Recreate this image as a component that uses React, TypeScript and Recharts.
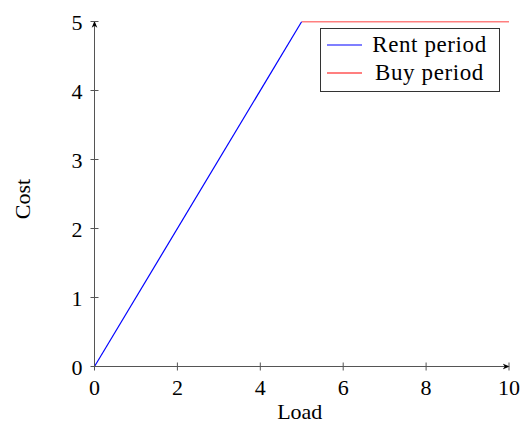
import { LineChart, Line, XAxis, YAxis, Legend } from 'recharts'

const xTicks = [0, 2, 4, 6, 8, 10]
const yTicks = [0, 1, 2, 3, 4, 5]

const rentX = [0, 5]
const rentCost = [0, 5]
const buyX = [5, 10]
const buyCost = [5, 5]

const rentData = rentX.map((x, i) => ({ load: x, cost: rentCost[i] }))
const buyData = buyX.map((x, i) => ({ load: x, cost: buyCost[i] }))

const FONT = '"Liberation Serif", "Times New Roman", serif'
const AXIS = '#555'
const FS = 22
const RENT = 'rgb(0,0,255)'
const BUY = 'rgb(255,0,0)'

function XTick({ x, y, payload }: any) {
  return (
    <g>
      <line x1={x} x2={x} y1={y - 4} y2={y + 4} stroke={AXIS} strokeWidth={1} />
      <text x={x} y={y + 28} textAnchor="middle" fill="#000" fontSize={FS} fontFamily={FONT}>
        {payload.value}
      </text>
    </g>
  )
}

function YTick({ x, y, payload }: any) {
  return (
    <g>
      <line x1={x - 4} x2={x + 4} y1={y} y2={y} stroke={AXIS} strokeWidth={1} />
      <text x={x - 12} y={y + 8} textAnchor="end" fill="#000" fontSize={FS} fontFamily={FONT}>
        {payload.value}
      </text>
    </g>
  )
}

function LegendBox() {
  const items = [
    { label: 'Rent period', color: RENT },
    { label: 'Buy period', color: BUY },
  ]
  return (
    <div
      style={{
        border: '1px solid #333',
        background: '#fff',
        padding: '2px 6px 4px 6px',
        fontFamily: FONT,
        fontSize: 23,
        lineHeight: '28px',
        width: 166,
      }}
    >
      {items.map((it) => (
        <div key={it.label} style={{ display: 'flex', alignItems: 'center', height: 28 }}>
          <svg width={35} height={4} style={{ marginRight: 4, display: 'block' }}>
            <line x1={0} x2={35} y1={2} y2={2} stroke={it.color} strokeWidth={1.2} />
          </svg>
          <span style={{ flex: 1, textAlign: 'center', letterSpacing: 0.6 }}>{it.label}</span>
        </div>
      ))}
    </div>
  )
}

export default function App() {
  return (
    <div style={{ position: 'absolute', left: 0, top: 0, background: '#fff' }}>
      <LineChart width={521} height={423} margin={{ top: 21.5, right: 12, bottom: 0, left: 0 }}>
        <defs>
          <marker
            id="arrow"
            viewBox="0 0 10 10"
            refX="9"
            refY="5"
            markerWidth="7"
            markerHeight="7"
            orient="auto-start-reverse"
            markerUnits="userSpaceOnUse"
          >
            <path d="M0,1 L10,5 L0,9 L3,5 z" fill="#000" />
          </marker>
        </defs>
        <XAxis
          type="number"
          dataKey="load"
          domain={[0, 10]}
          ticks={xTicks}
          height={56.5}
          tickSize={0}
          tickMargin={0}
          tickLine={false}
          axisLine={{ stroke: AXIS, strokeWidth: 1, markerEnd: 'url(#arrow)' }}
          tick={<XTick />}
          interval={0}
          allowDataOverflow
          label={({ viewBox }: any) => (
            <text
              x={viewBox.x + viewBox.width / 2 - 2}
              y={419}
              textAnchor="middle"
              fill="#000"
              fontSize={FS}
              fontFamily={FONT}
            >
              Load
            </text>
          )}
        />
        <YAxis
          type="number"
          dataKey="cost"
          domain={[0, 5]}
          ticks={yTicks}
          width={94.5}
          tickSize={0}
          tickMargin={0}
          tickLine={false}
          axisLine={{ stroke: AXIS, strokeWidth: 1, markerStart: 'url(#arrow)' }}
          tick={<YTick />}
          interval={0}
          allowDataOverflow
          label={({ viewBox }: any) => {
            const cx = 30
            const cy = viewBox.y + viewBox.height / 2 + 5
            return (
              <text
                x={cx}
                y={cy}
                transform={`rotate(-90 ${cx} ${cy})`}
                textAnchor="middle"
                fill="#000"
                fontSize={FS}
                fontFamily={FONT}
              >
                Cost
              </text>
            )
          }}
        />
        <Line
          data={rentData}
          dataKey="cost"
          stroke={RENT}
          strokeWidth={1.2}
          dot={false}
          activeDot={false}
          isAnimationActive={false}
          name="Rent period"
        />
        <Line
          data={buyData}
          dataKey="cost"
          stroke={BUY}
          strokeWidth={1.3}
          dot={false}
          activeDot={false}
          isAnimationActive={false}
          name="Buy period"
        />
        <Legend
          content={<LegendBox />}
          layout="horizontal"
          verticalAlign="middle"
          align="center"
          wrapperStyle={{ top: 28, right: 21, left: 'auto', width: 'auto' }}
        />
      </LineChart>
    </div>
  )
}
